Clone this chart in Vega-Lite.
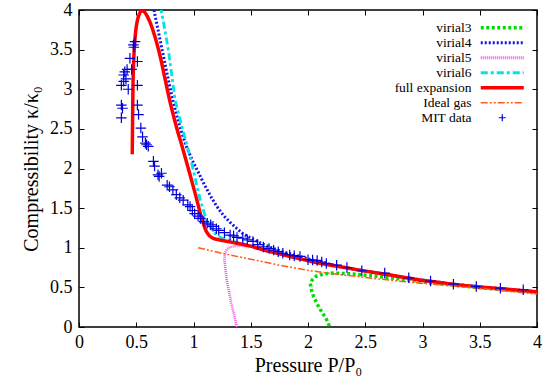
{
  "$schema": "https://vega.github.io/schema/vega-lite/v6.json",
  "width": 458,
  "height": 317,
  "autosize": {"type": "none"},
  "padding": {"left": 79, "top": 10, "right": 14, "bottom": 58},
  "background": "white",
  "config": {
    "font": "Liberation Serif",
    "view": {"stroke": "black", "strokeWidth": 1.5},
    "axis": {
      "domain": false,
      "grid": false,
      "tickColor": "black",
      "tickWidth": 1,
      "tickSize": -5,
      "labelColor": "black",
      "labelFont": "Liberation Serif",
      "labelFontSize": 18,
      "titleFont": "Liberation Serif",
      "titleFontSize": 20,
      "titleFontWeight": "normal",
      "titleColor": "black",
      "labelFlush": false,
      "labelOverlap": false
    }
  },
  "datasets": {
    "curves": [
      {"series": "virial3", "i": 1, "x": 2.21, "y": -0.05},
      {"series": "virial3", "i": 2, "x": 2.19, "y": 0.0},
      {"series": "virial3", "i": 3, "x": 2.16, "y": 0.1},
      {"series": "virial3", "i": 4, "x": 2.12, "y": 0.19},
      {"series": "virial3", "i": 5, "x": 2.08, "y": 0.29},
      {"series": "virial3", "i": 6, "x": 2.05, "y": 0.38},
      {"series": "virial3", "i": 7, "x": 2.03, "y": 0.47},
      {"series": "virial3", "i": 8, "x": 2.02, "y": 0.55},
      {"series": "virial3", "i": 9, "x": 2.04, "y": 0.6},
      {"series": "virial3", "i": 10, "x": 2.07, "y": 0.64},
      {"series": "virial3", "i": 11, "x": 2.11, "y": 0.66},
      {"series": "virial3", "i": 12, "x": 2.17, "y": 0.675},
      {"series": "virial3", "i": 13, "x": 2.22, "y": 0.68},
      {"series": "virial3", "i": 14, "x": 2.32, "y": 0.675},
      {"series": "virial3", "i": 15, "x": 2.43, "y": 0.665},
      {"series": "virial3", "i": 16, "x": 2.6, "y": 0.64},
      {"series": "virial3", "i": 17, "x": 2.72, "y": 0.62},
      {"series": "virial3", "i": 18, "x": 3.0, "y": 0.57},
      {"series": "virial3", "i": 19, "x": 3.25, "y": 0.53},
      {"series": "virial3", "i": 20, "x": 3.5, "y": 0.495},
      {"series": "virial3", "i": 21, "x": 3.75, "y": 0.465},
      {"series": "virial3", "i": 22, "x": 4.0, "y": 0.44},

      {"series": "virial4", "i": 1, "x": 0.65, "y": 4.05},
      {"series": "virial4", "i": 2, "x": 0.66, "y": 3.96},
      {"series": "virial4", "i": 3, "x": 0.7, "y": 3.68},
      {"series": "virial4", "i": 4, "x": 0.74, "y": 3.4},
      {"series": "virial4", "i": 5, "x": 0.78, "y": 3.12},
      {"series": "virial4", "i": 6, "x": 0.82, "y": 2.86},
      {"series": "virial4", "i": 7, "x": 0.86, "y": 2.63},
      {"series": "virial4", "i": 8, "x": 0.9, "y": 2.44},
      {"series": "virial4", "i": 9, "x": 0.94, "y": 2.27},
      {"series": "virial4", "i": 10, "x": 1.0, "y": 2.07},
      {"series": "virial4", "i": 11, "x": 1.05, "y": 1.93},
      {"series": "virial4", "i": 12, "x": 1.09, "y": 1.81},
      {"series": "virial4", "i": 13, "x": 1.15, "y": 1.65},
      {"series": "virial4", "i": 14, "x": 1.2, "y": 1.53},
      {"series": "virial4", "i": 15, "x": 1.26, "y": 1.41},
      {"series": "virial4", "i": 16, "x": 1.32, "y": 1.32},
      {"series": "virial4", "i": 17, "x": 1.38, "y": 1.24},
      {"series": "virial4", "i": 18, "x": 1.43, "y": 1.18},
      {"series": "virial4", "i": 19, "x": 1.5, "y": 1.12},
      {"series": "virial4", "i": 20, "x": 1.6, "y": 1.05},
      {"series": "virial4", "i": 21, "x": 1.7, "y": 0.99},
      {"series": "virial4", "i": 22, "x": 1.8, "y": 0.94},
      {"series": "virial4", "i": 23, "x": 1.93, "y": 0.89},
      {"series": "virial4", "i": 24, "x": 2.05, "y": 0.84},
      {"series": "virial4", "i": 25, "x": 2.2, "y": 0.79},
      {"series": "virial4", "i": 26, "x": 2.4, "y": 0.73},
      {"series": "virial4", "i": 27, "x": 2.72, "y": 0.655},
      {"series": "virial4", "i": 28, "x": 2.92, "y": 0.605},
      {"series": "virial4", "i": 29, "x": 3.21, "y": 0.55},
      {"series": "virial4", "i": 30, "x": 3.5, "y": 0.505},
      {"series": "virial4", "i": 31, "x": 3.79, "y": 0.47},
      {"series": "virial4", "i": 32, "x": 4.0, "y": 0.445},

      {"series": "virial5", "i": 1, "x": 1.385, "y": -0.05},
      {"series": "virial5", "i": 2, "x": 1.377, "y": 0.0},
      {"series": "virial5", "i": 3, "x": 1.355, "y": 0.15},
      {"series": "virial5", "i": 4, "x": 1.33, "y": 0.3},
      {"series": "virial5", "i": 5, "x": 1.31, "y": 0.45},
      {"series": "virial5", "i": 6, "x": 1.29, "y": 0.59},
      {"series": "virial5", "i": 7, "x": 1.28, "y": 0.72},
      {"series": "virial5", "i": 8, "x": 1.27, "y": 0.85},
      {"series": "virial5", "i": 9, "x": 1.275, "y": 0.93},
      {"series": "virial5", "i": 10, "x": 1.29, "y": 0.98},
      {"series": "virial5", "i": 11, "x": 1.32, "y": 1.01},
      {"series": "virial5", "i": 12, "x": 1.36, "y": 1.02},
      {"series": "virial5", "i": 13, "x": 1.41, "y": 1.025},
      {"series": "virial5", "i": 14, "x": 1.5, "y": 1.015},
      {"series": "virial5", "i": 15, "x": 1.64, "y": 0.96},
      {"series": "virial5", "i": 16, "x": 1.93, "y": 0.86},
      {"series": "virial5", "i": 17, "x": 2.28, "y": 0.76},
      {"series": "virial5", "i": 18, "x": 2.72, "y": 0.655},
      {"series": "virial5", "i": 19, "x": 3.21, "y": 0.55},
      {"series": "virial5", "i": 20, "x": 3.79, "y": 0.47},
      {"series": "virial5", "i": 21, "x": 4.0, "y": 0.445},

      {"series": "virial6", "i": 1, "x": 0.71, "y": 4.05},
      {"series": "virial6", "i": 2, "x": 0.72, "y": 3.98},
      {"series": "virial6", "i": 3, "x": 0.75, "y": 3.75},
      {"series": "virial6", "i": 4, "x": 0.78, "y": 3.5},
      {"series": "virial6", "i": 5, "x": 0.81, "y": 3.18},
      {"series": "virial6", "i": 6, "x": 0.84, "y": 2.86},
      {"series": "virial6", "i": 7, "x": 0.9, "y": 2.52},
      {"series": "virial6", "i": 8, "x": 0.955, "y": 2.23},
      {"series": "virial6", "i": 9, "x": 1.0, "y": 1.97},
      {"series": "virial6", "i": 10, "x": 1.03, "y": 1.78},
      {"series": "virial6", "i": 11, "x": 1.06, "y": 1.6},
      {"series": "virial6", "i": 12, "x": 1.09, "y": 1.46},
      {"series": "virial6", "i": 13, "x": 1.115, "y": 1.35},
      {"series": "virial6", "i": 14, "x": 1.15, "y": 1.25},
      {"series": "virial6", "i": 15, "x": 1.2, "y": 1.16},
      {"series": "virial6", "i": 16, "x": 1.25, "y": 1.12},
      {"series": "virial6", "i": 17, "x": 1.3, "y": 1.1},
      {"series": "virial6", "i": 18, "x": 1.4, "y": 1.06},
      {"series": "virial6", "i": 19, "x": 1.5, "y": 1.02},
      {"series": "virial6", "i": 20, "x": 1.64, "y": 0.96},
      {"series": "virial6", "i": 21, "x": 1.93, "y": 0.86},
      {"series": "virial6", "i": 22, "x": 2.28, "y": 0.76},
      {"series": "virial6", "i": 23, "x": 2.72, "y": 0.655},
      {"series": "virial6", "i": 24, "x": 3.21, "y": 0.55},
      {"series": "virial6", "i": 25, "x": 3.79, "y": 0.47},
      {"series": "virial6", "i": 26, "x": 4.0, "y": 0.445},

      {"series": "full expansion", "i": 1, "x": 0.465, "y": 2.18},
      {"series": "full expansion", "i": 2, "x": 0.468, "y": 2.6},
      {"series": "full expansion", "i": 3, "x": 0.471, "y": 3.0},
      {"series": "full expansion", "i": 4, "x": 0.476, "y": 3.3},
      {"series": "full expansion", "i": 5, "x": 0.485, "y": 3.56},
      {"series": "full expansion", "i": 6, "x": 0.495, "y": 3.73},
      {"series": "full expansion", "i": 7, "x": 0.51, "y": 3.87},
      {"series": "full expansion", "i": 8, "x": 0.53, "y": 3.96},
      {"series": "full expansion", "i": 9, "x": 0.55, "y": 3.99},
      {"series": "full expansion", "i": 10, "x": 0.575, "y": 3.97},
      {"series": "full expansion", "i": 11, "x": 0.6, "y": 3.91},
      {"series": "full expansion", "i": 12, "x": 0.63, "y": 3.81},
      {"series": "full expansion", "i": 13, "x": 0.67, "y": 3.63},
      {"series": "full expansion", "i": 14, "x": 0.71, "y": 3.41},
      {"series": "full expansion", "i": 15, "x": 0.75, "y": 3.14},
      {"series": "full expansion", "i": 16, "x": 0.795, "y": 2.84},
      {"series": "full expansion", "i": 17, "x": 0.85, "y": 2.53},
      {"series": "full expansion", "i": 18, "x": 0.91, "y": 2.23},
      {"series": "full expansion", "i": 19, "x": 0.97, "y": 1.92},
      {"series": "full expansion", "i": 20, "x": 1.03, "y": 1.6},
      {"series": "full expansion", "i": 21, "x": 1.06, "y": 1.43},
      {"series": "full expansion", "i": 22, "x": 1.085, "y": 1.31},
      {"series": "full expansion", "i": 23, "x": 1.11, "y": 1.21},
      {"series": "full expansion", "i": 24, "x": 1.14, "y": 1.15},
      {"series": "full expansion", "i": 25, "x": 1.18, "y": 1.115},
      {"series": "full expansion", "i": 26, "x": 1.24, "y": 1.095},
      {"series": "full expansion", "i": 27, "x": 1.3, "y": 1.08},
      {"series": "full expansion", "i": 28, "x": 1.4, "y": 1.05},
      {"series": "full expansion", "i": 29, "x": 1.5, "y": 1.02},
      {"series": "full expansion", "i": 30, "x": 1.64, "y": 0.96},
      {"series": "full expansion", "i": 31, "x": 1.76, "y": 0.92},
      {"series": "full expansion", "i": 32, "x": 1.93, "y": 0.86},
      {"series": "full expansion", "i": 33, "x": 2.05, "y": 0.82},
      {"series": "full expansion", "i": 34, "x": 2.28, "y": 0.76},
      {"series": "full expansion", "i": 35, "x": 2.5, "y": 0.705},
      {"series": "full expansion", "i": 36, "x": 2.72, "y": 0.655},
      {"series": "full expansion", "i": 37, "x": 2.92, "y": 0.605},
      {"series": "full expansion", "i": 38, "x": 3.21, "y": 0.55},
      {"series": "full expansion", "i": 39, "x": 3.5, "y": 0.505},
      {"series": "full expansion", "i": 40, "x": 3.79, "y": 0.47},
      {"series": "full expansion", "i": 41, "x": 4.0, "y": 0.445},

      {"series": "Ideal gas", "i": 1, "x": 1.04, "y": 1.0},
      {"series": "Ideal gas", "i": 2, "x": 1.25, "y": 0.93},
      {"series": "Ideal gas", "i": 3, "x": 1.5, "y": 0.855},
      {"series": "Ideal gas", "i": 4, "x": 1.75, "y": 0.78},
      {"series": "Ideal gas", "i": 5, "x": 2.0, "y": 0.715},
      {"series": "Ideal gas", "i": 6, "x": 2.25, "y": 0.665},
      {"series": "Ideal gas", "i": 7, "x": 2.5, "y": 0.625},
      {"series": "Ideal gas", "i": 8, "x": 2.75, "y": 0.585},
      {"series": "Ideal gas", "i": 9, "x": 3.0, "y": 0.55},
      {"series": "Ideal gas", "i": 10, "x": 3.25, "y": 0.52},
      {"series": "Ideal gas", "i": 11, "x": 3.5, "y": 0.49},
      {"series": "Ideal gas", "i": 12, "x": 3.75, "y": 0.45},
      {"series": "Ideal gas", "i": 13, "x": 4.0, "y": 0.415}
    ],
    "mit": [
      {"series": "MIT data", "x": 0.49, "y": 3.6}, {"series": "MIT data", "x": 0.475, "y": 3.56},
      {"series": "MIT data", "x": 0.48, "y": 3.53}, {"series": "MIT data", "x": 0.445, "y": 3.39},
      {"series": "MIT data", "x": 0.51, "y": 3.35}, {"series": "MIT data", "x": 0.4, "y": 3.22},
      {"series": "MIT data", "x": 0.42, "y": 3.25}, {"series": "MIT data", "x": 0.39, "y": 3.18},
      {"series": "MIT data", "x": 0.46, "y": 3.25}, {"series": "MIT data", "x": 0.41, "y": 3.13},
      {"series": "MIT data", "x": 0.37, "y": 3.05}, {"series": "MIT data", "x": 0.39, "y": 3.1},
      {"series": "MIT data", "x": 0.43, "y": 3.0}, {"series": "MIT data", "x": 0.51, "y": 3.05},
      {"series": "MIT data", "x": 0.37, "y": 2.8}, {"series": "MIT data", "x": 0.38, "y": 2.76},
      {"series": "MIT data", "x": 0.37, "y": 2.64}, {"series": "MIT data", "x": 0.51, "y": 2.8},
      {"series": "MIT data", "x": 0.52, "y": 2.68}, {"series": "MIT data", "x": 0.54, "y": 2.51},
      {"series": "MIT data", "x": 0.555, "y": 2.4}, {"series": "MIT data", "x": 0.58, "y": 2.32},
      {"series": "MIT data", "x": 0.605, "y": 2.28}, {"series": "MIT data", "x": 0.59, "y": 2.3},
      {"series": "MIT data", "x": 0.65, "y": 2.09}, {"series": "MIT data", "x": 0.66, "y": 2.03},
      {"series": "MIT data", "x": 0.69, "y": 1.92}, {"series": "MIT data", "x": 0.72, "y": 1.94},
      {"series": "MIT data", "x": 0.7, "y": 1.9}, {"series": "MIT data", "x": 0.77, "y": 1.79},
      {"series": "MIT data", "x": 0.79, "y": 1.77}, {"series": "MIT data", "x": 0.82, "y": 1.73},
      {"series": "MIT data", "x": 0.85, "y": 1.67}, {"series": "MIT data", "x": 0.88, "y": 1.63},
      {"series": "MIT data", "x": 0.91, "y": 1.6}, {"series": "MIT data", "x": 0.95, "y": 1.54},
      {"series": "MIT data", "x": 0.97, "y": 1.52}, {"series": "MIT data", "x": 0.99, "y": 1.47},
      {"series": "MIT data", "x": 1.01, "y": 1.43}, {"series": "MIT data", "x": 1.04, "y": 1.4},
      {"series": "MIT data", "x": 1.06, "y": 1.37}, {"series": "MIT data", "x": 1.09, "y": 1.33},
      {"series": "MIT data", "x": 1.12, "y": 1.31}, {"series": "MIT data", "x": 1.15, "y": 1.29},
      {"series": "MIT data", "x": 1.17, "y": 1.27}, {"series": "MIT data", "x": 1.2, "y": 1.24},
      {"series": "MIT data", "x": 1.22, "y": 1.22}, {"series": "MIT data", "x": 1.27, "y": 1.19},
      {"series": "MIT data", "x": 1.32, "y": 1.16}, {"series": "MIT data", "x": 1.35, "y": 1.15},
      {"series": "MIT data", "x": 1.38, "y": 1.13}, {"series": "MIT data", "x": 1.43, "y": 1.12},
      {"series": "MIT data", "x": 1.47, "y": 1.1}, {"series": "MIT data", "x": 1.52, "y": 1.08},
      {"series": "MIT data", "x": 1.56, "y": 1.04}, {"series": "MIT data", "x": 1.61, "y": 1.01},
      {"series": "MIT data", "x": 1.66, "y": 0.99}, {"series": "MIT data", "x": 1.7, "y": 0.97},
      {"series": "MIT data", "x": 1.74, "y": 0.95}, {"series": "MIT data", "x": 1.78, "y": 0.93},
      {"series": "MIT data", "x": 1.84, "y": 0.91}, {"series": "MIT data", "x": 1.88, "y": 0.9},
      {"series": "MIT data", "x": 1.93, "y": 0.89}, {"series": "MIT data", "x": 2.0, "y": 0.85},
      {"series": "MIT data", "x": 2.04, "y": 0.845}, {"series": "MIT data", "x": 2.08, "y": 0.84},
      {"series": "MIT data", "x": 2.12, "y": 0.82}, {"series": "MIT data", "x": 2.16, "y": 0.8},
      {"series": "MIT data", "x": 2.25, "y": 0.78}, {"series": "MIT data", "x": 2.34, "y": 0.75},
      {"series": "MIT data", "x": 2.47, "y": 0.71}, {"series": "MIT data", "x": 2.67, "y": 0.68},
      {"series": "MIT data", "x": 2.88, "y": 0.62}, {"series": "MIT data", "x": 3.07, "y": 0.58},
      {"series": "MIT data", "x": 3.27, "y": 0.54}, {"series": "MIT data", "x": 3.47, "y": 0.51},
      {"series": "MIT data", "x": 3.68, "y": 0.49}, {"series": "MIT data", "x": 3.88, "y": 0.47}
    ]
  },
  "layer": [
    {
      "data": {"name": "curves"},
      "transform": [{"filter": "datum.series === 'virial3'"}],
      "mark": {"type": "line", "clip": true, "strokeWidth": 3.5, "strokeDash": [3, 2.5], "strokeCap": "butt"},
      "encoding": {
        "x": {"field": "x", "type": "quantitative", "scale": {"domain": [0, 4], "nice": false, "zero": false},
          "axis": {"values": [0, 0.5, 1, 1.5, 2, 2.5, 3, 3.5, 4], "format": "~g", "title": "Pressure P/P₀",
                   "labelFont": "Liberation Serif", "titleFont": "Liberation Serif", "labelFontSize": 18, "titleFontSize": 20,
                   "labelPadding": 11, "titlePadding": 4}},
        "y": {"field": "y", "type": "quantitative", "scale": {"domain": [0, 4], "nice": false, "zero": false},
          "axis": {"values": [0, 0.5, 1, 1.5, 2, 2.5, 3, 3.5, 4], "format": "~g", "title": "Compressibility κ/κ₀",
                   "labelFont": "Liberation Serif", "titleFont": "Liberation Serif", "labelFontSize": 18, "titleFontSize": 20,
                   "labelPadding": 12, "titlePadding": 8}},
        "order": {"field": "i", "type": "quantitative"},
        "color": {"field": "series", "type": "nominal",
          "scale": {"domain": ["virial3", "virial4", "virial5", "virial6", "full expansion", "Ideal gas", "MIT data"],
                    "range": ["#00dd00", "#1212ee", "#f050f0", "#00e4e4", "#ff0000", "#ff5a1e", "#0000dd"]},
          "legend": {
            "title": null, "orient": "none", "legendX": 395, "legendY": 11, "padding": 0,
            "labelFont": "Liberation Serif", "labelFontSize": 13.5, "labelColor": "black",
            "labelAlign": "right", "labelBaseline": "middle", "labelOffset": -16,
            "symbolSize": 100, "symbolStrokeWidth": 2, "rowPadding": 0,
            "encode": {
              "symbols": {"update": {
              "shape": {"signal": "datum.value === 'MIT data' ? 'M3.6,0L5,0M4.3,-0.7L4.3,0.7' : 'M0,0L8.6,0'"},
              "strokeDash": {"signal": "datum.value === 'virial3' ? [3,2.5] : datum.value === 'virial4' ? [2,2] : datum.value === 'virial5' ? [1,1] : datum.value === 'virial6' ? [7,3,3,3] : datum.value === 'Ideal gas' ? [7,2,2,2,2,2] : [1,0]"},
              "strokeWidth": {"signal": "datum.value === 'full expansion' || datum.value === 'virial3' ? 3.5 : datum.value === 'Ideal gas' ? 1.5 : datum.value === 'MIT data' ? 1.2 : 2.8"},
              "fill": {"value": "transparent"},
              "opacity": {"value": 1}
            }}}
          }
        }
      }
    },
    {
      "data": {"name": "curves"},
      "transform": [{"filter": "datum.series === 'virial4'"}],
      "mark": {"type": "line", "clip": true, "strokeWidth": 3, "strokeDash": [2, 2], "strokeCap": "butt"},
      "encoding": {
        "x": {"field": "x", "type": "quantitative", "axis": null},
        "y": {"field": "y", "type": "quantitative", "axis": null},
        "order": {"field": "i", "type": "quantitative"},
        "color": {"field": "series", "type": "nominal"}
      }
    },
    {
      "data": {"name": "curves"},
      "transform": [{"filter": "datum.series === 'virial5'"}],
      "mark": {"type": "line", "clip": true, "strokeWidth": 2.6, "strokeDash": [1, 1], "strokeCap": "butt"},
      "encoding": {
        "x": {"field": "x", "type": "quantitative", "axis": null},
        "y": {"field": "y", "type": "quantitative", "axis": null},
        "order": {"field": "i", "type": "quantitative"},
        "color": {"field": "series", "type": "nominal"}
      }
    },
    {
      "data": {"name": "curves"},
      "transform": [{"filter": "datum.series === 'virial6'"}],
      "mark": {"type": "line", "clip": true, "strokeWidth": 2.8, "strokeDash": [7, 3, 3, 3], "strokeCap": "butt"},
      "encoding": {
        "x": {"field": "x", "type": "quantitative", "axis": null},
        "y": {"field": "y", "type": "quantitative", "axis": null},
        "order": {"field": "i", "type": "quantitative"},
        "color": {"field": "series", "type": "nominal"}
      }
    },
    {
      "data": {"name": "curves"},
      "transform": [{"filter": "datum.series === 'full expansion'"}],
      "mark": {"type": "line", "clip": true, "strokeWidth": 3.5, "interpolate": "monotone"},
      "encoding": {
        "x": {"field": "x", "type": "quantitative", "axis": null},
        "y": {"field": "y", "type": "quantitative", "axis": null},
        "order": {"field": "i", "type": "quantitative"},
        "color": {"field": "series", "type": "nominal"}
      }
    },
    {
      "data": {"name": "curves"},
      "transform": [{"filter": "datum.series === 'Ideal gas'"}],
      "mark": {"type": "line", "clip": true, "strokeWidth": 1.5, "strokeDash": [7, 2, 2, 2, 2, 2], "strokeCap": "butt"},
      "encoding": {
        "x": {"field": "x", "type": "quantitative", "axis": null},
        "y": {"field": "y", "type": "quantitative", "axis": null},
        "order": {"field": "i", "type": "quantitative"},
        "color": {"field": "series", "type": "nominal"}
      }
    },
    {
      "data": {"name": "mit"},
      "mark": {"type": "point", "clip": true, "shape": "M-1,0L1,0M0,-1L0,1", "size": 110, "strokeWidth": 1.2, "filled": false, "opacity": 1},
      "encoding": {
        "x": {"field": "x", "type": "quantitative",
          "axis": {"orient": "top", "labels": false, "title": null, "values": [0, 0.5, 1, 1.5, 2, 2.5, 3, 3.5, 4]}},
        "y": {"field": "y", "type": "quantitative",
          "axis": {"orient": "right", "labels": false, "title": null, "values": [0, 0.5, 1, 1.5, 2, 2.5, 3, 3.5, 4]}},
        "color": {"field": "series", "type": "nominal"}
      }
    }
  ],
  "resolve": {"axis": {"x": "independent", "y": "independent"}}
}
